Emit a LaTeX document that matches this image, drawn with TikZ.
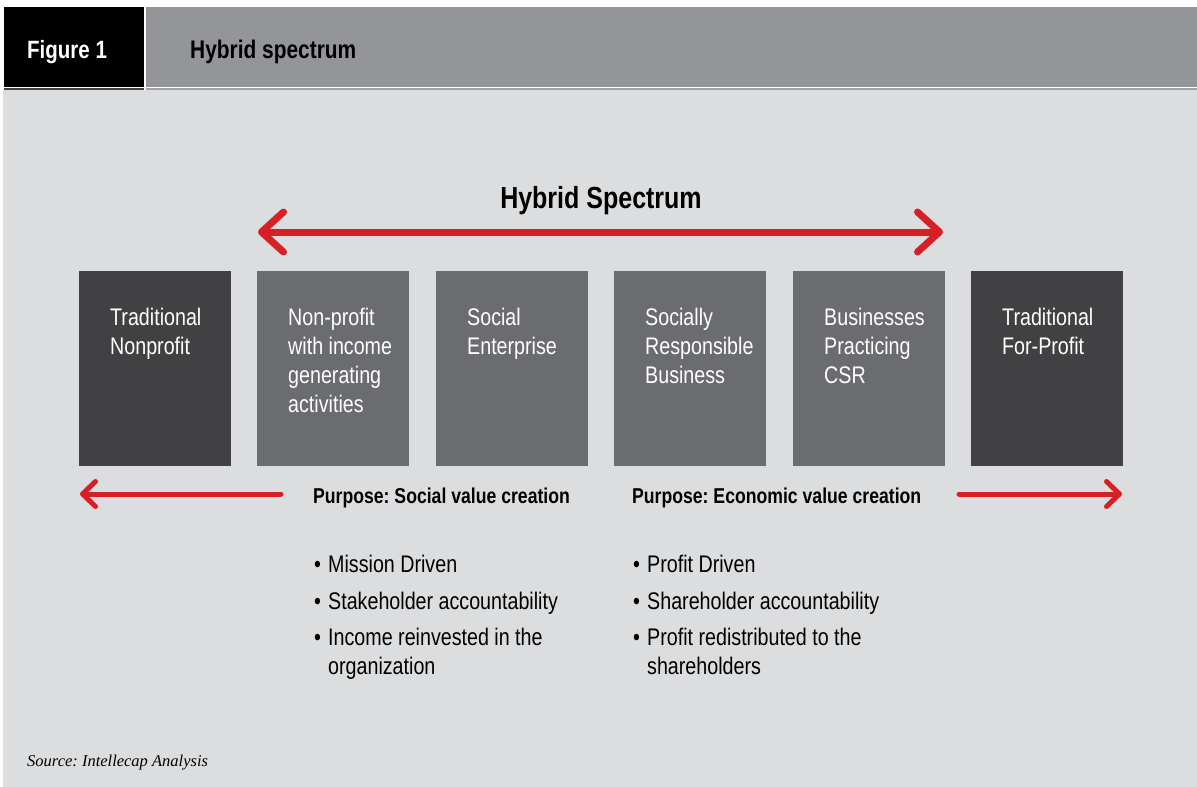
\documentclass[tikz,border=0pt]{standalone}
\usepackage{fontspec}
\setmainfont{Liberation Sans}[FakeStretch=0.82]
\newfontfamily\sourcefont{Liberation Serif}
\usetikzlibrary{arrows.meta}
\definecolor{spred}{HTML}{D71F26}
\definecolor{boxdark}{HTML}{414143}
\definecolor{boxmid}{HTML}{6B6C70}
\definecolor{panelgrey}{HTML}{DCDDDF}
\definecolor{headgrey}{HTML}{939598}
\definecolor{rulegrey}{HTML}{A2A3A6}
\newcommand{\bul}{\makebox[14pt][l]{\textbullet}}
\frenchspacing

\begin{document}
\begin{tikzpicture}
      [x=1pt,y=-1pt,
      dark box/.style={rectangle,fill=boxdark,anchor=north west,inner sep=0pt,
        minimum width=152pt,minimum height=195pt},
      mid box/.style={dark box,fill=boxmid},
      box text/.style={anchor=north west,inner sep=0pt,align=left,text=white,
        font=\fontsize{24}{29}\selectfont},
      purpose/.style={anchor=base west,inner sep=0pt,font=\bfseries\fontsize{21.5}{26}\selectfont},
      list text/.style={anchor=north west,inner sep=0pt,align=left,font=\fontsize{24}{29}\selectfont},
      big arrow/.style={draw=spred,line width=7pt,line cap=round,
        arrows={Straight Barb[length=22pt,width=40pt,round]-Straight Barb[length=22pt,width=40pt,round]}},
      small arrow/.style={draw=spred,line width=5pt,line cap=round,
        arrows={-Straight Barb[length=13pt,width=25pt,round]}}]
      \useasboundingbox (0,0) rectangle (1197,787);
      % header band
      \fill[black] (4,7) rectangle (144,87);
      \fill[headgrey] (146,7) rectangle (1197,87);
      \fill[boxdark] (4,88) rectangle (144,89.5);
      \fill[rulegrey] (146,88) rectangle (1197,89.5);
      \fill[panelgrey] (3,90) rectangle (1197,787);
      \node[anchor=base west,inner sep=0pt,text=white,font=\bfseries\fontsize{25}{30}\selectfont]
        (fig) at (27,58) {Figure 1};
      \node[anchor=base west,inner sep=0pt,font=\bfseries\fontsize{25.5}{30}\selectfont]
        (head) at (190,58) {Hybrid spectrum};
      % spectrum
      \node[anchor=base,inner sep=0pt,font=\bfseries\fontsize{30.5}{36}\selectfont]
        (title) at (601,208) {Hybrid Spectrum};
      \coordinate (hl) at (258,232);
      \coordinate (hr) at (943,232);
      \draw[big arrow] (hl) -- (hr);
      \node[dark box] (b1) at (79,271) {};
      \node[mid box] (b2) at (257,271) {};
      \node[mid box] (b3) at (436,271) {};
      \node[mid box] (b4) at (614,271) {};
      \node[mid box] (b5) at (793,271) {};
      \node[dark box] (b6) at (971,271) {};
      \node[box text] (t1) at ([xshift=31pt,yshift=-37pt]b1.north west) {Traditional\\Nonprofit};
      \node[box text] (t2) at ([xshift=31pt,yshift=-37pt]b2.north west) {Non-profit\\with income\\generating\\activities};
      \node[box text] (t3) at ([xshift=31pt,yshift=-37pt]b3.north west) {Social\\Enterprise};
      \node[box text] (t4) at ([xshift=31pt,yshift=-37pt]b4.north west) {Socially\\Responsible\\Business};
      \node[box text] (t5) at ([xshift=31pt,yshift=-37pt]b5.north west) {Businesses\\Practicing\\CSR};
      \node[box text] (t6) at ([xshift=31pt,yshift=-37pt]b6.north west) {Traditional\\For-Profit};
      % purposes
      \coordinate (sl) at (281,494);
      \coordinate (se) at (80,494);
      \draw[small arrow] (sl) -- (se);
      \coordinate (el) at (959,494);
      \coordinate (ee) at (1122,494);
      \draw[small arrow] (el) -- (ee);
      \node[purpose] (p1) at (313,503) {Purpose: Social value creation};
      \node[purpose] (p2) at (632,503) {Purpose: Economic value creation};
      \node[list text] (l1) at (314,555)
        {\bul Mission Driven\\[7.5pt]\bul Stakeholder accountability\\[7.5pt]\bul Income reinvested in the\\\hspace*{14pt}organization};
      \node[list text] (l2) at (633,555)
        {\bul Profit Driven\\[7.5pt]\bul Shareholder accountability\\[7.5pt]\bul Profit redistributed to the\\\hspace*{14pt}shareholders};
      \node[anchor=base west,inner sep=0pt,font=\sourcefont\itshape\fontsize{16.5}{20}\selectfont]
        (src) at (27,766) {Source: Intellecap Analysis};
    \end{tikzpicture}
\end{document}
